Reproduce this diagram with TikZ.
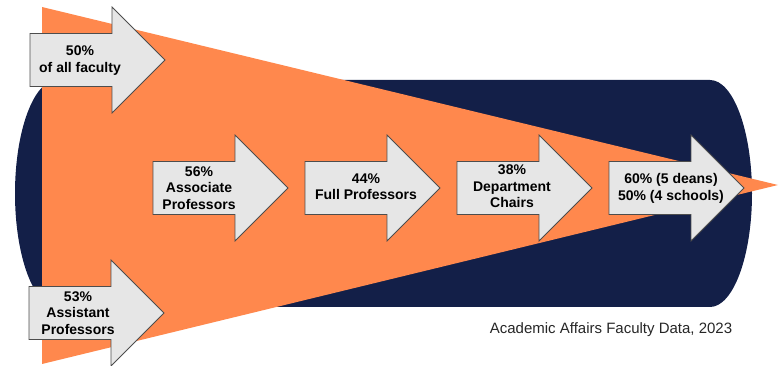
\documentclass[tikz,border=0pt]{standalone}
\usepackage{fontspec}
\setmainfont{Liberation Sans}

\definecolor{pipenavy}{HTML}{131F48}
\definecolor{funnelorange}{HTML}{FF884D}
\definecolor{arrowfill}{HTML}{E6E6E6}
\definecolor{arrowline}{HTML}{4D4D4D}
\definecolor{sourcegray}{HTML}{262626}

\tikzset{%
  every blockarrow/.style={
    fill=arrowfill,
    draw=arrowline,
    line width=0.8pt,
    line join=miter
  },
  arrow label/.style={
    font=\bfseries\fontsize{14}{16.5}\selectfont,
    align=center,
    inner sep=0pt
  },
  source label/.style={
    font=\fontsize{15}{18}\selectfont,
    text=sourcegray,
    inner sep=0pt
  },
}

% block arrow: left end, middle height
\newcommand{\blockarrow}[2]{%
  \draw[every blockarrow] (#1,#2-26.5) -- ++(82,0) -- ++(0,-26.5)
    -- ++(53,53) -- ++(-53,53) -- ++(0,-26.5) -- ++(-82,0) -- cycle;}

\begin{document}
\begin{tikzpicture}[x=1pt, y=-1pt]

            \useasboundingbox (0,0) rectangle (780,366);

            % Navy pipe behind
            \fill[pipenavy] (57,80) -- (710,80)
              arc[start angle=-90, end angle=90, x radius=42, y radius=113.5]
              -- (57,307)
              arc[start angle=90, end angle=270, x radius=42, y radius=113.5]
              -- cycle;

            % Orange funnel
            \fill[funnelorange] (42,7) -- (778,185) -- (42,364) -- cycle;

            % Arrows
            \foreach \xa/\ya in {30/60, 29/313, 153/188, 305/188, 457/188, 609/188}
              {\blockarrow{\xa}{\ya}}

            % Text in arrows
            \foreach \xt/\yt/\txt [count=\i] in {
                80/60.5/{50\%\\of all faculty},
                78/313/{53\%\\Assistant\\Professors},
                199/188/{56\%\\Associate\\Professors},
                366/186.5/{44\%\\Full Professors},
                512/186.5/{38\%\\Department\\Chairs},
                671/188.5/{60\% (5 deans)\\50\% (4 schools)}}
              \node [arrow label] (label-\i) at (\xt,\yt) {\txt};

            % Source line
            \node [source label] (source) at (611,330) {Academic Affairs Faculty Data, 2023};

\end{tikzpicture}
\end{document}
